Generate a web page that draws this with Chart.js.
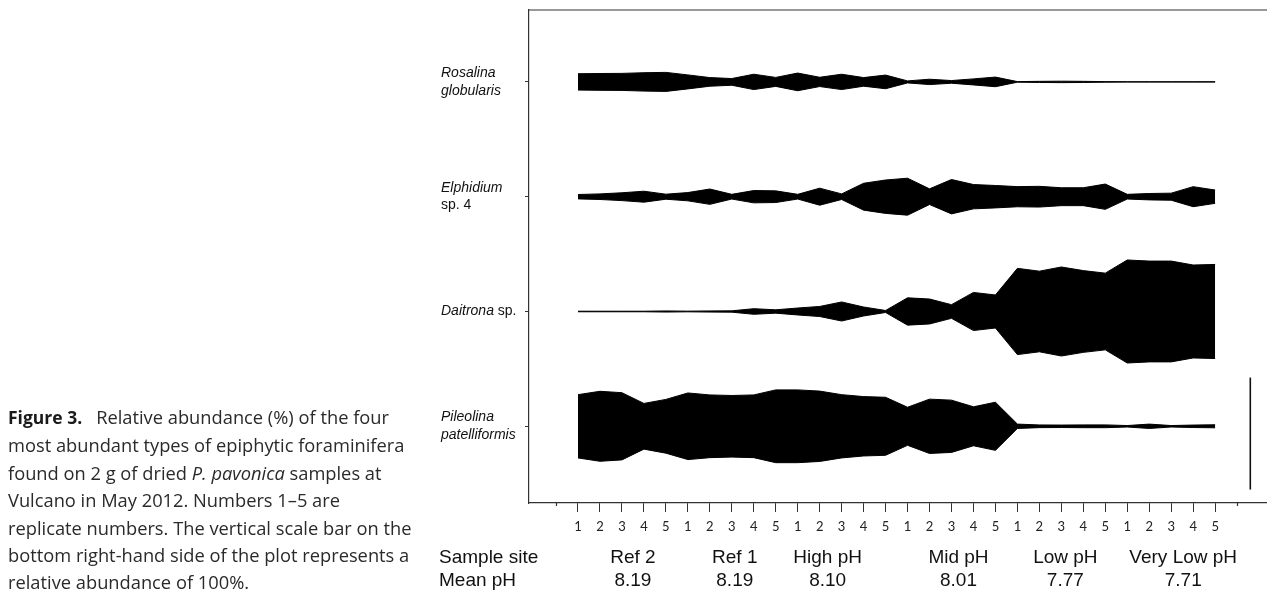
<!DOCTYPE html>
<html>
<head>
<meta charset="utf-8">
<script src="https://cdn.jsdelivr.net/npm/chart.js@4.4.1/dist/chart.umd.min.js"></script>
<style>
  html, body { margin: 0; padding: 0; background: #fff; overflow: hidden; }
  #wrap { position: relative; width: 1267px; height: 595px; }
  #kite { position: absolute; left: 0; top: 0; }
  #caption {
    position: absolute; left: 8px; top: 403px;
    font-family: "Open Sans", sans-serif; font-size: 18.3px; line-height: 27.4px;
    color: #2a2a2a; white-space: nowrap;
  }
  #caption b { color: #1a1a1a; font-size: 17.5px; margin-right: 14px; }
</style>
</head>
<body>
<div id="wrap">
  <canvas id="kite" width="1267" height="595"></canvas>
  <div id="caption"><b>Figure 3.</b>Relative abundance (%) of the four<br>most abundant types of epiphytic foraminifera<br>found on 2 g of dried <i>P. pavonica</i> samples at<br>Vulcano in May 2012. Numbers 1–5 are<br>replicate numbers. The vertical scale bar on the<br>bottom right-hand side of the plot represents a<br>relative abundance of 100%.</div>
</div>
<script>
// sample sites and replicates
const sites = ['Ref 2', 'Ref 1', 'High pH', 'Mid pH', 'Low pH', 'Very Low pH'];
const meanPH = ['8.19', '8.19', '8.10', '8.01', '7.77', '7.71'];
const replicates = [1, 2, 3, 4, 5];

// species names, top to bottom
const speciesLabels = [
  ['Rosalina', 'globularis'],
  ['Elphidium', 'sp. 4'],
  ['Daitrona sp.'],
  ['Pileolina', 'patelliformis']
];

// relative abundance (%) per sample, 6 sites x 5 replicates
const rosalina = [14.6, 15, 15.2, 16.4, 17, 12.5, 7.7, 6, 13.7, 8, 15.8, 8.3, 13.7, 7.7, 12.2, 1.8, 4.8, 2.4, 5.4, 8.6, 0.5, 1, 1.3, 1, 0.5, 0.3, 0.3, 0.3, 0.3, 0.3];
const elphidium = [3.9, 5, 7, 9.8, 4.5, 7.4, 13.7, 4.2, 11, 10.4, 4.2, 15.2, 5, 24, 29.8, 33, 14, 30.7, 21.7, 20, 18, 18.5, 16, 16, 22.6, 4.2, 5.7, 6.3, 17.9, 11.9];
const daitrona = [0.5, 0.5, 0.5, 0.5, 1, 0.6, 1, 1.2, 5, 3, 6.2, 9, 17, 8, 1.8, 24.4, 22.3, 12.2, 34, 29.5, 77, 72, 79.5, 73, 68.5, 92, 90, 90, 83, 84];
const pileolina = [56.5, 62.5, 60, 40.8, 48, 59.5, 56, 55, 56, 65, 65, 62.8, 56.5, 53, 51.8, 34, 48.5, 46.7, 34.8, 43, 3.9, 2.4, 2.2, 2.5, 2.5, 1.3, 3.9, 1.3, 2.2, 2.7];

const scaleBarPct = 100;

const seriesList = [rosalina, elphidium, daitrona, pileolina];

// layout: y axis measured in % of abundance (kite full width), baselines stacked
const Y_MAX = 440.2;
const BASE0 = 68.5, BASE_GAP = 102.5;
const baselineOf = k => BASE0 + (seriesList.length - 1 - k) * BASE_GAP;
const SCALEBAR_X = 31.6, SCALEBAR_Y0 = 12;
const siteNudge = [11, 3, -14, 7, 4, 12]; // px shift of site labels

const nSamples = sites.length * replicates.length;
const datasets = [];
seriesList.forEach((vals, k) => {
  const base = baselineOf(k);
  datasets.push({
    data: vals.map((v, i) => ({ x: i + 1, y: base + v / 2 })),
    borderColor: '#000', backgroundColor: '#000', borderWidth: 1,
    pointRadius: 0, tension: 0, fill: false
  });
  datasets.push({
    data: vals.map((v, i) => ({ x: i + 1, y: base - v / 2 })),
    borderColor: '#000', backgroundColor: '#000', borderWidth: 1,
    pointRadius: 0, tension: 0, fill: '-1'
  });
});
// 100% scale bar
datasets.push({
  data: [{ x: SCALEBAR_X, y: SCALEBAR_Y0 }, { x: SCALEBAR_X, y: SCALEBAR_Y0 + scaleBarPct }],
  borderColor: '#111', borderWidth: 1.6, pointRadius: 0, fill: false
});

const labelsPlugin = {
  id: 'kiteLabels',
  afterDraw(chart) {
    const ctx = chart.ctx;
    const xs = chart.scales.x, ys = chart.scales.y;
    const area = chart.chartArea;
    ctx.save();
    ctx.strokeStyle = '#333';
    ctx.lineWidth = 1.2;
    // top frame line
    ctx.beginPath();
    ctx.moveTo(area.left, area.top);
    ctx.lineTo(area.right, area.top);
    // short end ticks
    [0, nSamples + 1].forEach(v => {
      const px = Math.round(xs.getPixelForValue(v)) + 0.5;
      ctx.moveTo(px, area.bottom);
      ctx.lineTo(px, area.bottom + 3);
    });
    ctx.stroke();

    // species names
    ctx.fillStyle = '#111';
    ctx.textBaseline = 'middle';
    ctx.textAlign = 'left';
    speciesLabels.forEach((lines, k) => {
      const yc = ys.getPixelForValue(baselineOf(k));
      const lh = 17.5;
      lines.forEach((line, j) => {
        const y = yc + (j - (lines.length - 1) / 2) * lh;
        let x = 441;
        line.split(' ').forEach((w, wi) => {
          const plain = (w === 'sp.' || w === '4');
          ctx.font = (plain ? '' : 'italic ') + '14px "Liberation Sans", Arial, sans-serif';
          const txt = (wi > 0 ? ' ' : '') + w;
          ctx.fillText(txt, x, y);
          x += ctx.measureText(txt).width;
        });
      });
    });

    // bottom headings
    ctx.font = '19px "Liberation Sans", Arial, sans-serif';
    ctx.fillStyle = '#111';
    ctx.textAlign = 'left';
    ctx.fillText('Sample site', 439, 558);
    ctx.fillText('Mean pH', 439, 581);
    ctx.textAlign = 'center';
    sites.forEach((s, si) => {
      const cx = xs.getPixelForValue(si * replicates.length + 3) + siteNudge[si];
      ctx.fillText(s, cx, 558);
      ctx.fillText(meanPH[si], cx, 581);
    });
    ctx.restore();
  }
};

new Chart(document.getElementById('kite'), {
  type: 'line',
  data: { datasets },
  options: {
    responsive: false,
    animation: false,
    layout: { padding: { top: 10, right: 0, left: 0, bottom: 0 } },
    plugins: { legend: { display: false }, tooltip: { enabled: false } },
    scales: {
      x: {
        type: 'linear',
        min: -1.23, max: 32.36,
        afterBuildTicks: s => { s.ticks = replicates.concat(...sites.slice(1).map(() => replicates)).map((_, i) => ({ value: i + 1 })); },
        afterFit: s => { s.height = 92; },
        ticks: {
          autoSkip: false, maxRotation: 0, padding: 7,
          color: '#222', font: { family: 'Lato', size: 13 },
          callback: v => replicates[(v - 1) % replicates.length]
        },
        grid: { drawOnChartArea: false, drawTicks: true, tickLength: 9, color: '#333', tickWidth: 1 },
        border: { display: true, color: '#333', width: 1.2 }
      },
      y: {
        type: 'linear',
        min: 0, max: Y_MAX,
        afterBuildTicks: s => { s.ticks = seriesList.map((_, k) => ({ value: baselineOf(k) })); },
        afterFit: s => { s.width = 529; },
        ticks: { callback: () => '', padding: 0 },
        grid: { drawOnChartArea: false, drawTicks: true, tickLength: 4, color: '#333', tickWidth: 1 },
        border: { display: true, color: '#333', width: 1.2 }
      }
    }
  },
  plugins: [labelsPlugin]
});
</script>
</body>
</html>
